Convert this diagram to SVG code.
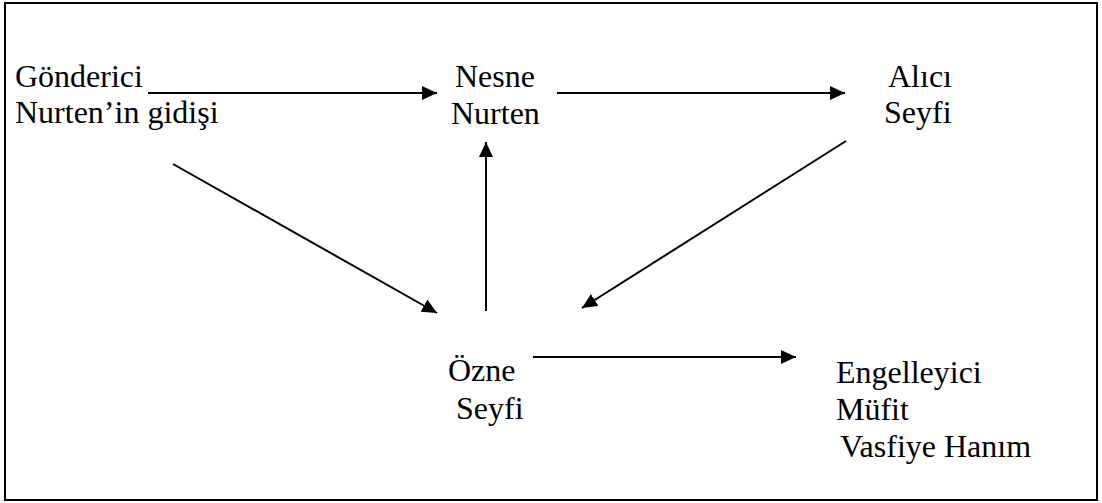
<svg xmlns="http://www.w3.org/2000/svg" width="1102" height="503" viewBox="0 0 1102 503">
<style>
text{font-family:"Liberation Serif","Times New Roman",serif;font-size:32px;fill:#000}
.c{stroke:#000;stroke-width:2;fill:none}
</style>
<defs>
<marker id="ah" markerUnits="userSpaceOnUse" markerWidth="16" markerHeight="15" refX="15" refY="7" orient="auto">
<path d="M0,0 L15,7 L0,14 z" fill="#000"/>
</marker>
</defs>
<rect x="5" y="3" width="1092" height="497" fill="#fff" stroke="#000" stroke-width="2"/>
<g id="connectors">
<line class="c" x1="148" y1="93" x2="437" y2="93" marker-end="url(#ah)"/>
<line class="c" x1="557" y1="93" x2="845" y2="93" marker-end="url(#ah)"/>
<line class="c" x1="486" y1="311" x2="486" y2="142" marker-end="url(#ah)"/>
<line class="c" x1="173" y1="164" x2="437" y2="313" marker-end="url(#ah)"/>
<line class="c" x1="846" y1="141" x2="582" y2="308" marker-end="url(#ah)"/>
<line class="c" x1="533" y1="357" x2="796" y2="357" marker-end="url(#ah)"/>
</g>
<g id="gonderici"><text x="15" y="87">Gönderici</text><text x="15" y="123">Nurten’in gidişi</text></g>
<g id="nesne"><text x="455" y="87">Nesne</text><text x="451" y="124">Nurten</text></g>
<g id="alici"><text x="888" y="87">Alıcı</text><text x="884" y="123">Seyfi</text></g>
<g id="ozne"><text x="448" y="381">Özne</text><text x="456" y="419">Seyfi</text></g>
<g id="engelleyici"><text x="836" y="383">Engelleyici</text><text x="836" y="420">Müfit</text><text x="840" y="457">Vasfiye Hanım</text></g>
</svg>
